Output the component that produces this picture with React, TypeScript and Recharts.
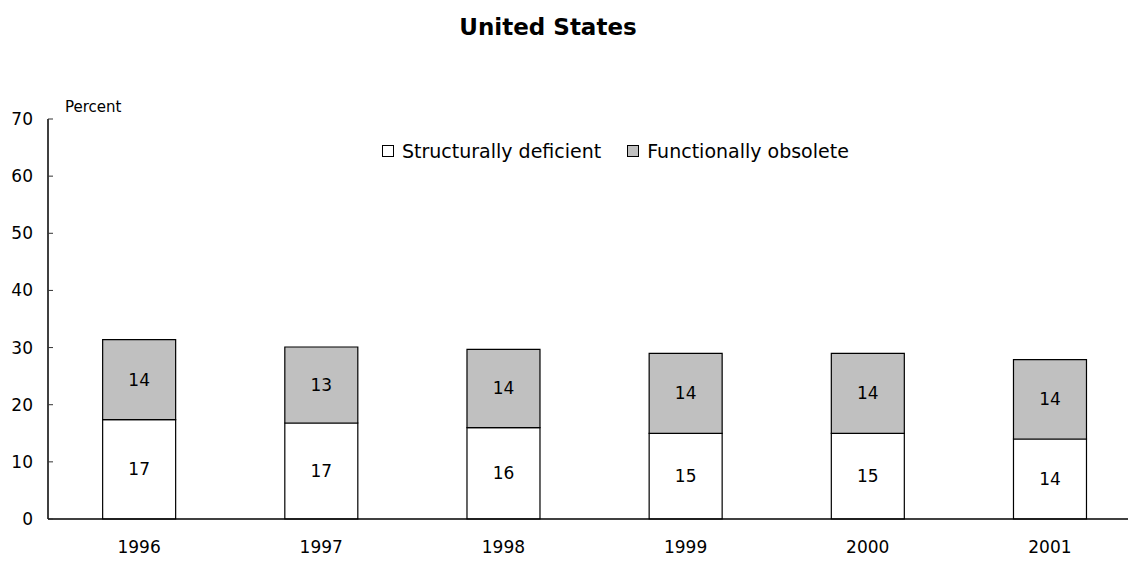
import { BarChart, Bar, XAxis, YAxis, LabelList } from 'recharts'

const years = ['1996', '1997', '1998', '1999', '2000', '2001']
const structurallyDeficient = [17.4, 16.8, 16.0, 15.0, 15.0, 14.0]
const functionallyObsolete = [14.0, 13.3, 13.7, 14.0, 14.0, 13.9]
const yTicks = [0, 10, 20, 30, 40, 50, 60, 70]

const FONT = '"DejaVu Sans", sans-serif'

const data = years.map((year, i) => ({
  year,
  sd: structurallyDeficient[i],
  fo: functionallyObsolete[i],
}))

const YTick = (props: any) => {
  const { y, payload } = props
  return (
    <g>
      <line x1={48} x2={53} y1={y} y2={y} stroke="#333" strokeWidth={1} />
      <text x={33} y={y} dy={6} textAnchor="end" fontSize={17} fill="#000" fontFamily={FONT}>
        {payload.value}
      </text>
    </g>
  )
}

const legendItems = [
  { label: 'Structurally deficient', fill: '#ffffff' },
  { label: 'Functionally obsolete', fill: '#c0c0c0' },
]

const LegendBox = () => (
  <div
    style={{
      position: 'absolute',
      top: 140,
      left: 382,
      display: 'flex',
      alignItems: 'center',
      fontFamily: FONT,
      fontSize: 19,
      color: '#000',
      whiteSpace: 'nowrap',
    }}
  >
    {legendItems.map((item, i) => (
      <div key={i} style={{ display: 'flex', alignItems: 'center', marginRight: i === 0 ? 26 : 0 }}>
        <span
          style={{
            display: 'inline-block',
            width: 10,
            height: 10,
            border: '1px solid #000',
            background: item.fill,
            marginRight: 8,
          }}
        />
        {item.label}
      </div>
    ))}
  </div>
)

export default function App() {
  return (
    <div style={{ position: 'relative', margin: -8, width: 1136, height: 561, overflow: 'hidden', background: '#fff' }}>
      <div
        style={{
          position: 'absolute',
          top: 14,
          left: 0,
          width: 1096,
          textAlign: 'center',
          fontFamily: FONT,
          fontWeight: 'bold',
          fontSize: 23,
          color: '#000',
        }}
      >
        United States
      </div>
      <div style={{ position: 'absolute', top: 98, left: 65, fontFamily: FONT, fontSize: 15, color: '#000' }}>
        Percent
      </div>
      <LegendBox />
      <BarChart
        width={1150}
        height={561}
        data={data}
        margin={{ top: 119, right: 9, left: 0, bottom: 12 }}
        barCategoryGap="30%"
      >
        <XAxis
          dataKey="year"
          axisLine={{ stroke: '#000', strokeWidth: 1.5 }}
          tickLine={false}
          tickMargin={16}
          height={30}
          tick={{ fill: '#000', fontSize: 17, fontFamily: FONT }}
        />
        <YAxis
          width={48}
          domain={[0, 70]}
          ticks={yTicks}
          interval={0}
          axisLine={{ stroke: '#000', strokeWidth: 1.5 }}
          tickLine={false}
          tick={<YTick />}
        />
        <Bar dataKey="sd" stackId="a" fill="#ffffff" stroke="#000" strokeWidth={1.2} isAnimationActive={false}>
          <LabelList
            dataKey="sd"
            position="center"
            formatter={(v: any) => Math.round(Number(v))}
            style={{ fill: '#000', fontSize: 17, fontFamily: FONT }}
          />
        </Bar>
        <Bar dataKey="fo" stackId="a" fill="#c0c0c0" stroke="#000" strokeWidth={1.2} isAnimationActive={false}>
          <LabelList
            dataKey="fo"
            position="center"
            formatter={(v: any) => Math.round(Number(v))}
            style={{ fill: '#000', fontSize: 17, fontFamily: FONT }}
          />
        </Bar>
      </BarChart>
    </div>
  )
}
